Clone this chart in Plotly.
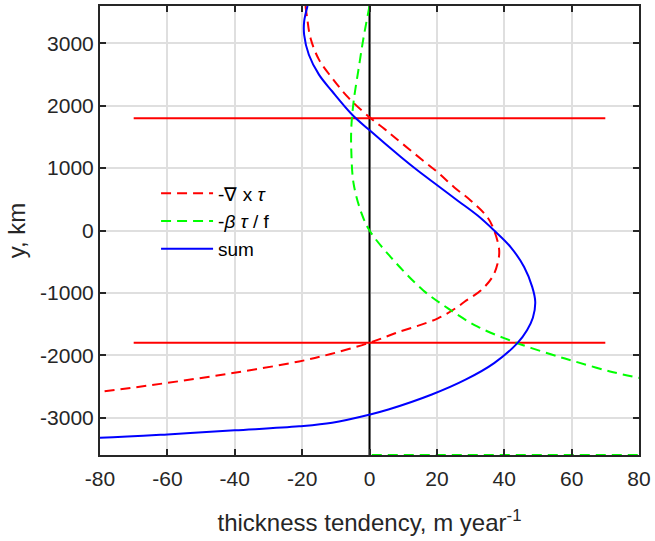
import plotly.graph_objects as go

# ---- data ----
# -curl tau term (red dashed)
red_y = [3600, 3405, 3083, 2740, 2445, 2126, 1807, 1622, 1488, 1143, 930, 691, 478, 213,
         0, -319, -532, -744, -957, -1143, -1230, -1409, -1648, -1797, -1980, -2100,
         -2286, -2445, -2589, -2720]
red_x = [-19.0, -18.5, -17.5, -15.0, -11.1, -6.2, 0.2, 4.6, 7.6, 15.4, 20.3, 25.2, 30.1, 35.0,
         37.0, 38.5, 38.0, 36.5, 33.1, 28.2, 26.0, 20.3, 7.6, 0.2, -11.5, -20.9,
         -40.6, -60.2, -80.0, -100.0]

# -beta tau / f term (green dashed)
green_y = [3600, 3083, 2605, 2073, 1648, 1276, 745, 266, 0, -426, -957, -1249, -1542,
           -1807, -2021, -2100, -2260, -2365]
green_x = [0.0, -1.8, -3.2, -4.7, -5.4, -5.4, -4.7, -2.3, 0.0, 6.3, 15.9, 23.3, 32.1,
           43.9, 56.0, 61.0, 71.4, 80.2]
# off-scale tail of the green term (it blows up, then returns to 0 at the southern edge)
green_tail_y = [-2365, -2700, -3100, -3599, -3600]
green_tail_x = [80.2, 130.0, 300.0, 10000.0, 0.0]

# sum (blue solid)
sum_y = [3600, 3350, 3137, 2818, 2499, 2233, 1861, 1622, 1170, 957, 718, 478, 239, 0,
         -266, -585, -904, -1143, -1400, -1595, -1807, -2126, -2392, -2630, -2871, -2950,
         -3083, -3140, -3205, -3270, -3323, -3400]
sum_x = [-18.4, -19.4, -19.4, -18.0, -15.0, -11.1, -5.2, -0.3, 9.5, 14.4, 20.3, 26.2, 32.1, 37.0,
         41.9, 45.9, 48.3, 49.2, 48.5, 46.8, 43.9, 37.0, 28.5, 18.5, 5.6, 0.2,
         -11.1, -20.9, -40.0, -60.0, -80.0, -130.0]

# reference lines
hline_levels = [1800, -1800]
hline_span = [-70, 70]
vline_x = 0
y_limits = [-3600, 3600]
x_limits = [-80, 80]

x_ticks = [-80, -60, -40, -20, 0, 20, 40, 60, 80]
y_ticks = [-3000, -2000, -1000, 0, 1000, 2000, 3000]

labels = ["-∇ x <i>τ</i>", "-<i>β τ</i> / f", "sum"]

FONT = "Liberation Sans, Arial, sans-serif"
TXT = "#262626"

fig = go.Figure()

# vertical zero line
fig.add_trace(go.Scatter(x=[vline_x, vline_x], y=y_limits, mode="lines",
                         line=dict(color="black", width=2), showlegend=False,
                         hoverinfo="skip"))

# horizontal red lines
hx, hy = [], []
for lev in hline_levels:
    hx += hline_span + [None]
    hy += [lev, lev, None]
fig.add_trace(go.Scatter(x=hx, y=hy, mode="lines", line=dict(color="#ff0000", width=2),
                         showlegend=False, hoverinfo="skip"))

fig.add_trace(go.Scatter(x=red_x, y=red_y, mode="lines", name=labels[0],
                         line=dict(color="#ff0000", width=2, dash="10px,6px",
                                   shape="spline", smoothing=1)))
fig.add_trace(go.Scatter(x=green_x, y=green_y, mode="lines", name=labels[1],
                         legendgroup="g",
                         line=dict(color="#00ff00", width=2, dash="10px,6px",
                                   shape="spline", smoothing=1)))
fig.add_trace(go.Scatter(x=green_tail_x, y=green_tail_y, mode="lines", legendgroup="g",
                         showlegend=False,
                         line=dict(color="#00ff00", width=2, dash="10px,6px")))
fig.add_trace(go.Scatter(x=sum_x, y=sum_y, mode="lines", name=labels[2],
                         line=dict(color="#0000ff", width=2, shape="spline", smoothing=1)))

axis_common = dict(
    showline=True, linecolor=TXT, linewidth=2, mirror="ticks",
    ticks="inside", ticklen=6, tickwidth=2, tickcolor=TXT,
    showgrid=True, gridcolor="#dfdfdf", gridwidth=2, zeroline=False,
    tickfont=dict(family=FONT, size=21, color=TXT),
)

fig.update_xaxes(range=x_limits, tickvals=x_ticks, ticktext=[str(v) for v in x_ticks],
                 ticklabelstandoff=4,
                 title=dict(text="thickness tendency, m year<sup>-1</sup>",
                            font=dict(family=FONT, size=24, color=TXT), standoff=25),
                 **axis_common)
fig.update_yaxes(range=y_limits, tickvals=y_ticks, ticktext=[str(v) for v in y_ticks],
                 title=dict(text="y, km", font=dict(family=FONT, size=24, color=TXT),
                            standoff=8),
                 **axis_common)

fig.update_layout(
    width=655, height=541,
    margin=dict(l=100, r=12, t=4, b=86),
    paper_bgcolor="white", plot_bgcolor="white",
    font=dict(family=FONT, color=TXT),
    legend=dict(x=0.104, y=0.625, xanchor="left", yanchor="top",
                bgcolor="rgba(0,0,0,0)", borderwidth=0,
                font=dict(family=FONT, size=19, color="black"),
                itemwidth=52, tracegroupgap=0),
    showlegend=True,
)

fig.write_html("out.html")
